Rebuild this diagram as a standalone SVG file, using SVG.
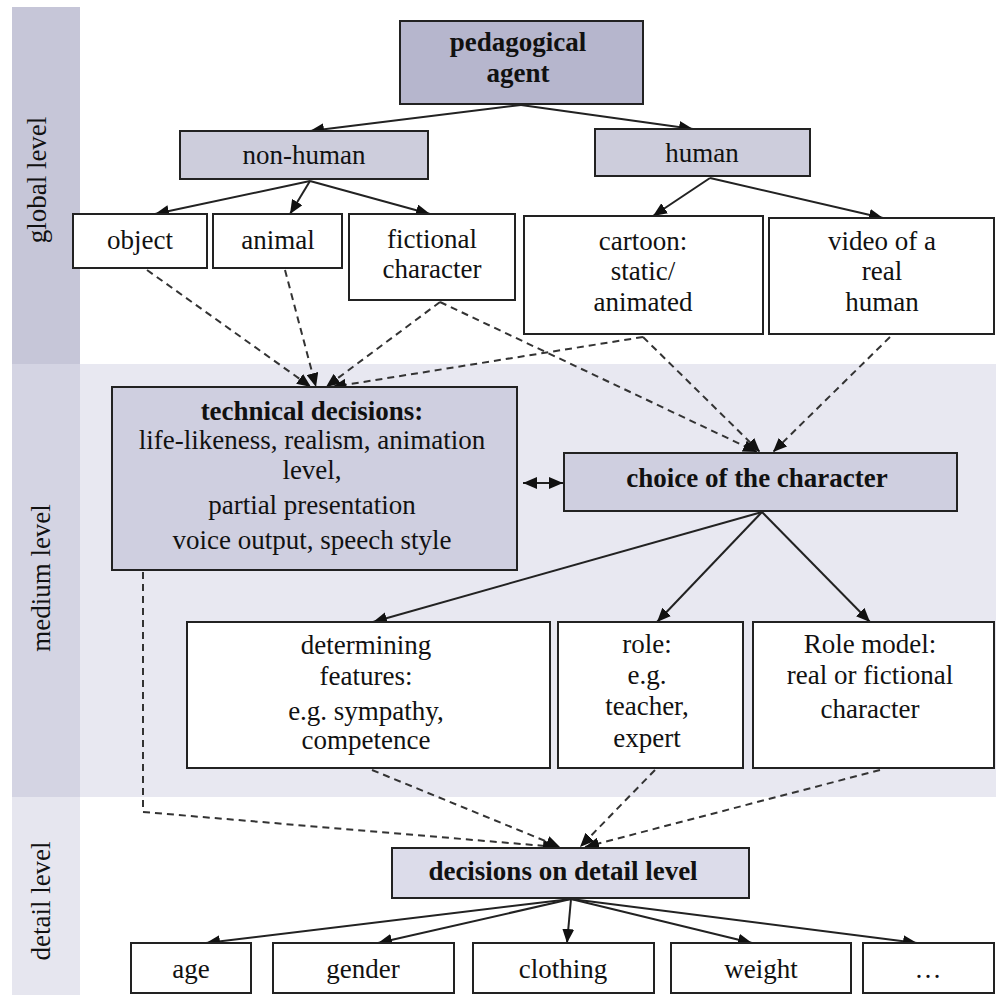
<svg xmlns="http://www.w3.org/2000/svg" width="996" height="995" viewBox="0 0 996 995">
<defs>
<style>
.t{font-family:'Liberation Serif','DejaVu Serif',serif;font-size:27px;fill:#111;text-anchor:middle}
.b{font-family:'Liberation Serif','DejaVu Serif',serif;font-size:27px;font-weight:bold;fill:#111;text-anchor:middle}
.box{stroke:#222;stroke-width:2}
.w{fill:#fff}
.g1{fill:#b6b6cd}
.g2{fill:#cdcddc}
.g3{fill:#cfcfe0}
.g4{fill:#dcdcea}
.c{fill:none;stroke:#222;stroke-width:2}
.d{fill:none;stroke:#333;stroke-width:2;stroke-dasharray:7 5}
</style>
<marker id="ah" viewBox="0 0 14 12" refX="14" refY="6" markerWidth="14" markerHeight="12" markerUnits="userSpaceOnUse" orient="auto-start-reverse">
<path d="M0,0 L14,6 L0,12 Z" fill="#111"/>
</marker>
</defs>

<g id="bands">
<rect x="12" y="7" width="68" height="358" fill="#c6c6d8"/>
<rect x="79" y="364" width="917" height="433" fill="#e8e8f1"/>
<rect x="12" y="364" width="68" height="433" fill="#d4d4e3"/>
<rect x="12" y="797" width="68" height="198" fill="#e6e6ef"/>
<text class="t" transform="translate(46,180) rotate(-90)">global level</text>
<text class="t" transform="translate(50,578) rotate(-90)">medium level</text>
<text class="t" transform="translate(50,901) rotate(-90)">detail level</text>
</g>

<g id="connectors">
<line class="c" x1="521" y1="105" x2="310" y2="131" marker-end="url(#ah)"/>
<line class="c" x1="521" y1="105" x2="693" y2="129" marker-end="url(#ah)"/>
<line class="c" x1="310" y1="181" x2="155" y2="214" marker-end="url(#ah)"/>
<line class="c" x1="310" y1="181" x2="290" y2="214" marker-end="url(#ah)"/>
<line class="c" x1="310" y1="181" x2="430" y2="214" marker-end="url(#ah)"/>
<line class="c" x1="710" y1="178" x2="653" y2="216" marker-end="url(#ah)"/>
<line class="c" x1="710" y1="178" x2="883" y2="218" marker-end="url(#ah)"/>
<line class="d" x1="147" y1="270" x2="311" y2="387" marker-end="url(#ah)"/>
<line class="d" x1="285" y1="270" x2="316" y2="387" marker-end="url(#ah)"/>
<line class="d" x1="440" y1="302" x2="326" y2="387" marker-end="url(#ah)"/>
<line class="d" x1="643" y1="337" x2="332" y2="387" marker-end="url(#ah)"/>
<line class="d" x1="440" y1="302" x2="757" y2="452" marker-end="url(#ah)"/>
<line class="d" x1="643" y1="337" x2="760" y2="452" marker-end="url(#ah)"/>
<line class="d" x1="890" y1="337" x2="773" y2="452" marker-end="url(#ah)"/>
<line class="c" x1="523" y1="483" x2="563" y2="483" marker-start="url(#ah)" marker-end="url(#ah)"/>
<line class="c" x1="762" y1="512" x2="373" y2="622" marker-end="url(#ah)"/>
<line class="c" x1="762" y1="512" x2="657" y2="622" marker-end="url(#ah)"/>
<line class="c" x1="762" y1="512" x2="870" y2="622" marker-end="url(#ah)"/>
<polyline class="d" points="143,572 143,812 557,847" marker-end="url(#ah)"/>
<line class="d" x1="372" y1="770" x2="560" y2="847" marker-end="url(#ah)"/>
<line class="d" x1="655" y1="770" x2="580" y2="847" marker-end="url(#ah)"/>
<line class="d" x1="880" y1="770" x2="585" y2="847" marker-end="url(#ah)"/>
<line class="c" x1="571" y1="899" x2="206" y2="943" marker-end="url(#ah)"/>
<line class="c" x1="571" y1="899" x2="378" y2="943" marker-end="url(#ah)"/>
<line class="c" x1="571" y1="899" x2="567" y2="943" marker-end="url(#ah)"/>
<line class="c" x1="571" y1="899" x2="752" y2="943" marker-end="url(#ah)"/>
<line class="c" x1="571" y1="899" x2="917" y2="943" marker-end="url(#ah)"/>
</g>

<g id="pedagogical-agent">
<rect class="box g1" x="400" y="21" width="243" height="83"/>
<text class="b" x="518" y="51">pedagogical</text>
<text class="b" x="518" y="82">agent</text>
</g>
<g id="non-human">
<rect class="box g2" x="180" y="131" width="248" height="48"/>
<text class="t" x="304" y="164">non-human</text>
</g>
<g id="human">
<rect class="box g2" x="595" y="129" width="215" height="47"/>
<text class="t" x="702" y="162">human</text>
</g>
<g id="object">
<rect class="box w" x="73" y="214" width="134" height="54"/>
<text class="t" x="140" y="249">object</text>
</g>
<g id="animal">
<rect class="box w" x="213" y="214" width="129" height="54"/>
<text class="t" x="278" y="249">animal</text>
</g>
<g id="fictional-character">
<rect class="box w" x="349" y="214" width="166" height="86"/>
<text class="t" x="432" y="248">fictional</text>
<text class="t" x="432" y="278">character</text>
</g>
<g id="cartoon">
<rect class="box w" x="524" y="216" width="239" height="118"/>
<text class="t" x="643" y="250">cartoon:</text>
<text class="t" x="643" y="280">static/</text>
<text class="t" x="643" y="311">animated</text>
</g>
<g id="video">
<rect class="box w" x="769" y="218" width="225" height="116"/>
<text class="t" x="882" y="250">video of a</text>
<text class="t" x="882" y="280">real</text>
<text class="t" x="882" y="311">human</text>
</g>
<g id="technical-decisions">
<rect class="box g3" x="112" y="387" width="405" height="183"/>
<text class="b" x="312" y="420">technical decisions:</text>
<text class="t" x="312" y="449">life-likeness, realism, animation</text>
<text class="t" x="312" y="479">level,</text>
<text class="t" x="312" y="514">partial presentation</text>
<text class="t" x="312" y="549">voice output, speech style</text>
</g>
<g id="choice-of-the-character">
<rect class="box g3" x="564" y="453" width="393" height="58"/>
<text class="b" x="757" y="487">choice of the character</text>
</g>
<g id="determining-features">
<rect class="box w" x="187" y="622" width="363" height="146"/>
<text class="t" x="366" y="654">determining</text>
<text class="t" x="366" y="685">features:</text>
<text class="t" x="366" y="720">e.g. sympathy,</text>
<text class="t" x="366" y="749">competence</text>
</g>
<g id="role">
<rect class="box w" x="558" y="622" width="185" height="146"/>
<text class="t" x="647" y="653">role:</text>
<text class="t" x="647" y="684">e.g.</text>
<text class="t" x="647" y="715">teacher,</text>
<text class="t" x="647" y="747">expert</text>
</g>
<g id="role-model">
<rect class="box w" x="753" y="622" width="241" height="146"/>
<text class="t" x="870" y="653">Role model:</text>
<text class="t" x="870" y="684">real or fictional</text>
<text class="t" x="870" y="718">character</text>
</g>
<g id="decisions-on-detail-level">
<rect class="box g4" x="392" y="848" width="357" height="50"/>
<text class="b" x="563" y="880">decisions on detail level</text>
</g>
<g id="age">
<rect class="box w" x="131" y="943" width="120" height="50"/>
<text class="t" x="191" y="978">age</text>
</g>
<g id="gender">
<rect class="box w" x="273" y="943" width="181" height="50"/>
<text class="t" x="363" y="978">gender</text>
</g>
<g id="clothing">
<rect class="box w" x="473" y="943" width="181" height="50"/>
<text class="t" x="563" y="978">clothing</text>
</g>
<g id="weight">
<rect class="box w" x="671" y="943" width="180" height="50"/>
<text class="t" x="761" y="978">weight</text>
</g>
<g id="more">
<rect class="box w" x="863" y="943" width="131" height="50"/>
<text class="t" x="928" y="978">…</text>
</g>
</svg>
